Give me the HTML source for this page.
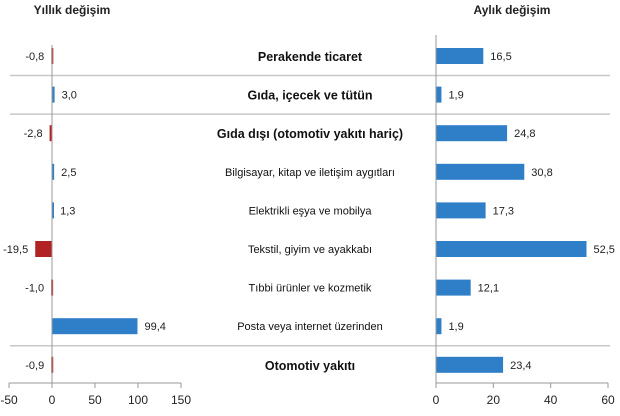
<!DOCTYPE html>
<html><head><meta charset="utf-8"><style>
body{margin:0;background:#fff;width:620px;height:411px;overflow:hidden;font-family:"Liberation Sans",sans-serif}
text{font-family:"Liberation Sans",sans-serif}
</style></head><body>
<svg id="c" width="620" height="411" xmlns="http://www.w3.org/2000/svg">
<text x="72" y="14" font-size="12" font-weight="bold" text-anchor="middle" fill="#222">Yıllık değişim</text>
<text x="512" y="14" font-size="12" font-weight="bold" text-anchor="middle" fill="#222">Aylık değişim</text>
</svg>
<script>
const categories=["Perakende ticaret","Gıda, içecek ve tütün","Gıda dışı (otomotiv yakıtı hariç)","Bilgisayar, kitap ve iletişim aygıtları","Elektrikli eşya ve mobilya","Tekstil, giyim ve ayakkabı","Tıbbi ürünler ve kozmetik","Posta veya internet üzerinden","Otomotiv yakıtı"];
const boldRows=[true,true,true,false,false,false,false,false,true];
const annual=[-0.8,3.0,-2.8,2.5,1.3,-19.5,-1.0,99.4,-0.9];
const monthly=[16.5,1.9,24.8,30.8,17.3,52.5,12.1,1.9,23.4];
const leftTicks=[-50,0,50,100,150];
const rightTicks=[0,20,40,60];
const separatorsAfter=[0,1,7];
const svg=document.getElementById('c');
const NS="http://www.w3.org/2000/svg";
const xL=v=>52+(v)*43/50;
const xR=v=>436+v*172/60;
const rowY=i=>56+i*38.6;
const axisY=383;
function mk(t,a){const e=document.createElementNS(NS,t);for(const k in a)e.setAttribute(k,a[k]);svg.appendChild(e);return e;}
const fmt=v=>v.toFixed(1).replace('.',',');
separatorsAfter.forEach(i=>{
 const l=mk('line',{x1:10,x2:610,y1:rowY(i)+19.5,y2:rowY(i)+19.5,stroke:'#c8c8c8','stroke-width':1.5});
 
 
});
categories.forEach((c,i)=>{
 const y=rowY(i);
 const t=mk('text',{x:310,y:y+(boldRows[i]?5:4),'font-size':boldRows[i]?12.5:11,'font-weight':boldRows[i]?'bold':'normal','text-anchor':'middle',fill:'#111'});
 t.textContent=c;
 
 
 const a=annual[i];
 const x0=xL(0),x1=xL(a);
 const b=mk('rect',{x:Math.min(x0,x1),y:y-8,width:Math.max(Math.abs(x1-x0),2),height:16,fill:a<0?'#b22222':'#2e7fc8'});
 
 
 const al=mk('text',{x:a<0?Math.min(x0,x1)-7:x1+7,y:y+4,'font-size':11,'text-anchor':a<0?'end':'start',fill:'#222'});
 al.textContent=fmt(a);
 
 
 const m=monthly[i];
 const r=mk('rect',{x:xR(0),y:y-8,width:xR(m)-xR(0),height:16,fill:'#2e7fc8'});
 
 
 const ml=mk('text',{x:xR(m)+7,y:y+4,'font-size':11,fill:'#222'});
 ml.textContent=fmt(m);
 
 
});
[[xL(0),45],[xR(0),35]].forEach(([x,y0])=>{
 const l=mk('line',{x1:x,x2:x,y1:y0,y2:axisY,stroke:'#999'});
 
 
});
const la=mk('line',{x1:xL(-50),x2:xL(150),y1:axisY,y2:axisY,stroke:'#999'});


const ra=mk('line',{x1:xR(0),x2:xR(60),y1:axisY,y2:axisY,stroke:'#999'});


leftTicks.forEach(v=>{
 const tk=mk('line',{x1:xL(v),x2:xL(v),y1:axisY,y2:axisY+5,stroke:'#999'});
 
 
 const t=mk('text',{x:xL(v),y:axisY+21,'font-size':12,'text-anchor':'middle',fill:'#222'});
 t.textContent=v;
 
 
});
rightTicks.forEach(v=>{
 const tk=mk('line',{x1:xR(v),x2:xR(v),y1:axisY,y2:axisY+5,stroke:'#999'});
 
 
 const t=mk('text',{x:xR(v),y:axisY+21,'font-size':12,'text-anchor':'middle',fill:'#222'});
 t.textContent=v;
 
 
});
</script>
</body></html>
